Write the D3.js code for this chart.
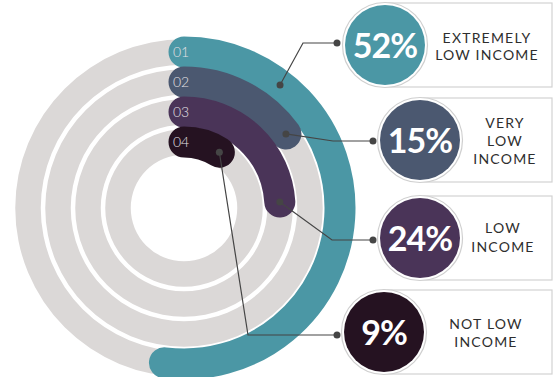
<!DOCTYPE html>
<html>
<head>
<meta charset="utf-8">
<script src="https://cdn.jsdelivr.net/npm/d3@7"></script>
<style>
  html, body { margin: 0; padding: 0; background: #ffffff; }
  svg { display: block; }
</style>
</head>
<body>
<svg id="chart" width="559" height="377"></svg>
<script>
// Income categories, one ring each (outer to inner)
const ringIds = ["01", "02", "03", "04"];
const shares = [52, 15, 24, 9];
const shareLabels = ["52%", "15%", "24%", "9%"];
const categoryLines = [
  ["EXTREMELY", "LOW INCOME"],
  ["VERY", "LOW", "INCOME"],
  ["LOW", "INCOME"],
  ["NOT LOW", "INCOME"]
];
const ringColors = ["#4b97a5", "#4b5870", "#4a3458", "#251221"];

// ---- layout ----
const W = 559, H = 377;
const cx = 184, cy = 208;
const trackWidth = 25.5;
const barWidth = 31;

const svg = d3.select("#chart");

// ring index -> centre-line radius
const radius = d3.scaleLinear().domain([0, ringIds.length - 1]).range([156, 66]);
// percentage -> sweep angle (clockwise from 12 o'clock)
const sweep = d3.scaleLinear().domain([0, 100]).range([0, 2 * Math.PI]);

// grey background tracks
const track = d3.arc()
  .innerRadius(d => radius(d) - trackWidth / 2)
  .outerRadius(d => radius(d) + trackWidth / 2)
  .startAngle(0)
  .endAngle(2 * Math.PI);

const g = svg.append("g").attr("transform", `translate(${cx},${cy})`);

g.selectAll("path.track")
  .data(d3.range(ringIds.length))
  .join("path")
  .attr("class", "track")
  .attr("d", track)
  .attr("fill", "#dbd8d7");

// coloured progress arcs with round caps
function arcLine(i) {
  const r = radius(i);
  const p = d3.path();
  p.moveTo(0, -r);
  p.arc(0, 0, r, -Math.PI / 2, sweep(shares[i]) - Math.PI / 2);
  return p.toString();
}

g.selectAll("path.bar")
  .data(d3.range(ringIds.length))
  .join("path")
  .attr("class", "bar")
  .attr("d", arcLine)
  .attr("fill", "none")
  .attr("stroke", (d, i) => ringColors[i])
  .attr("stroke-width", barWidth)
  .attr("stroke-linecap", "round");

// ring numbers on the start caps
g.selectAll("text.ringId")
  .data(ringIds)
  .join("text")
  .attr("class", "ringId")
  .attr("x", -11)
  .attr("y", (d, i) => -radius(i) + 5)
  .attr("fill", "#e4e0e4")
  .attr("font-family", "Lato, sans-serif")
  .attr("font-weight", 300)
  .attr("font-size", 14)
  .text(d => d);

// ---- leader lines ----
const anchorAngle = shares.map((v, i) => i === 0 ? 38 * Math.PI / 180 : sweep(v));
const elbowX = [303, 333, 332, 248];
const leaderY = [43, 141, 240, 335];
const leaderEndX = [337, 373, 373, 337];

const leaders = svg.append("g");
shares.forEach((v, i) => {
  const a = anchorAngle[i], r = radius(i);
  const x0 = cx + r * Math.sin(a), y0 = cy - r * Math.cos(a);
  const line = d3.line();
  leaders.append("path")
    .attr("d", line([[x0, y0], [elbowX[i], leaderY[i]], [leaderEndX[i], leaderY[i]]]))
    .attr("fill", "none")
    .attr("stroke", "#454545")
    .attr("stroke-width", 1.2);
  leaders.append("circle").attr("cx", x0).attr("cy", y0).attr("r", 3.5).attr("fill", "#454545");
  leaders.append("circle").attr("cx", leaderEndX[i]).attr("cy", leaderY[i]).attr("r", 3.5).attr("fill", "#454545");
});

// ---- badges with category boxes ----
const badgeX = [385, 420, 420, 384];
const badgeY = [45, 140, 238, 332];
const boxRight = 552;
const textX = [487, 505, 503, 486];
const textTop = [43, 128, 233, 329];
const textStep = [17, 18, 19, 18];

const badges = svg.append("g");
shares.forEach((v, i) => {
  const b = badges.append("g");
  b.append("rect")
    .attr("x", badgeX[i]).attr("y", badgeY[i] - 42)
    .attr("width", boxRight - badgeX[i]).attr("height", 84)
    .attr("fill", "#ffffff")
    .attr("stroke", "#d2d2d2").attr("stroke-width", 1.2);
  b.append("circle")
    .attr("cx", badgeX[i]).attr("cy", badgeY[i]).attr("r", 42.5)
    .attr("fill", "#ffffff")
    .attr("stroke", "#cfcfcf").attr("stroke-width", 1.2);
  b.append("circle")
    .attr("cx", badgeX[i]).attr("cy", badgeY[i]).attr("r", 40)
    .attr("fill", ringColors[i]);
  b.append("text")
    .attr("x", badgeX[i]).attr("y", badgeY[i] + 12.5)
    .attr("text-anchor", "middle")
    .attr("fill", "#ffffff")
    .attr("font-family", "Lato, sans-serif")
    .attr("font-weight", 700)
    .attr("font-size", 34)
    .attr("letter-spacing", -1)
    .text(shareLabels[i]);
  b.selectAll("text.cat")
    .data(categoryLines[i])
    .join("text")
    .attr("class", "cat")
    .attr("x", textX[i])
    .attr("y", (d, k) => textTop[i] + k * textStep[i])
    .attr("text-anchor", "middle")
    .attr("fill", "#2e2e2e")
    .attr("font-family", "Lato, sans-serif")
    .attr("font-size", 14)
    .attr("letter-spacing", 1.2)
    .text(d => d);
});
</script>
</body>
</html>
